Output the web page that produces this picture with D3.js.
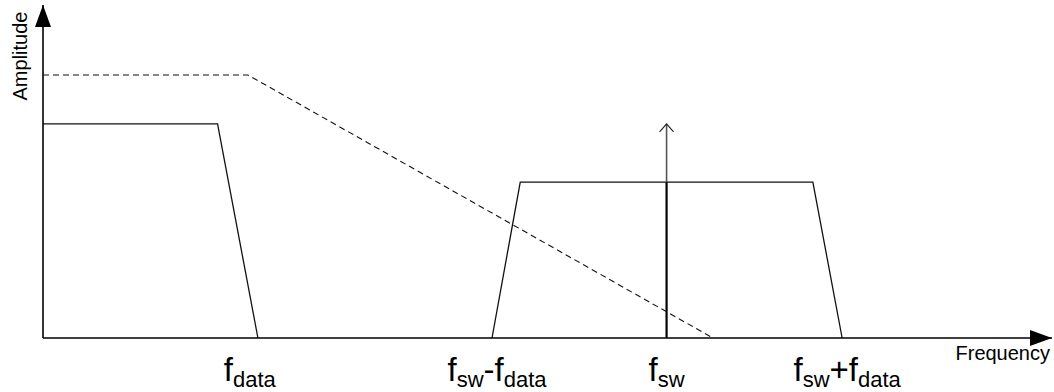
<!DOCTYPE html>
<html>
<head>
<meta charset="utf-8">
<script src="https://cdn.jsdelivr.net/npm/d3@7"></script>
<style>
  html, body { margin: 0; padding: 0; background: #fff; }
  svg { display: block; font-family: "Liberation Sans", Arial, sans-serif; }
</style>
</head>
<body>
<svg id="chart" width="1054" height="392"></svg>
<script>
// Spectrum sketch: baseband data, switching-frequency image band, carrier impulse,
// and a dashed low-pass filter response. Frequencies and amplitudes in arbitrary units.

// Baseband data spectrum (flat top, then roll-off to zero at f_data)
const basebandFreq = [0, 17.3, 21.3];
const basebandAmp  = [64.3, 64.3, 0];

// Modulated band around f_sw (from f_sw - f_data to f_sw + f_data)
const bandFreq = [44.5, 47.3, 76.3, 79.2];
const bandAmp  = [0, 46.8, 46.8, 0];

// Carrier impulse at f_sw
const impulseFreq = 61.8;
const impulseAmp  = 64.3;

// Filter response (dashed)
const filterFreq = [0, 20.3, 66.4];
const filterAmp  = [79.0, 79.0, 0];

// Axis tick labels: symbol/subscript pairs joined by operators
const tickFreq   = [20.5, 45.0, 61.8, 79.7];
const tickLabels = [
  [["f", "data"]],
  [["f", "sw"], "-", ["f", "data"]],
  [["f", "sw"]],
  [["f", "sw"], "+", ["f", "data"]]
];

const axisTitleX = "Frequency";
const axisTitleY = "Amplitude";

const svg = d3.select("#chart");
const x = d3.scaleLinear().domain([0, 100]).range([43, 1052]);
const y = d3.scaleLinear().domain([0, 100]).range([338, 5]);

const line = d3.line().x(d => x(d[0])).y(d => y(d[1]));

// Arrowhead marker for the axes
const defs = svg.append("defs");
defs.append("marker")
  .attr("id", "axisArrow")
  .attr("viewBox", "0 0 22 16")
  .attr("refX", 22).attr("refY", 8)
  .attr("markerWidth", 22).attr("markerHeight", 16)
  .attr("markerUnits", "userSpaceOnUse")
  .attr("orient", "auto")
  .append("path").attr("d", "M0,0 L22,8 L0,16 Z").attr("fill", "#000");

// Filter response
svg.append("path")
  .attr("d", line(d3.zip(filterFreq, filterAmp)))
  .attr("fill", "none").attr("stroke", "#111").attr("stroke-width", 1.1)
  .attr("stroke-dasharray", "6,4");

// Baseband spectrum
svg.append("path")
  .attr("d", line(d3.zip(basebandFreq, basebandAmp)))
  .attr("fill", "none").attr("stroke", "#111").attr("stroke-width", 1.3);

// Modulated band
svg.append("path")
  .attr("d", line(d3.zip(bandFreq, bandAmp)))
  .attr("fill", "none").attr("stroke", "#111").attr("stroke-width", 1.3);

// Carrier impulse with open arrowhead
const ix = x(impulseFreq), itop = y(impulseAmp);
svg.append("line")
  .attr("x1", ix).attr("x2", ix).attr("y1", y(0)).attr("y2", itop)
  .attr("stroke", "#555").attr("stroke-width", 1.6);
svg.append("line")
  .attr("x1", ix).attr("x2", ix).attr("y1", y(0)).attr("y2", y(bandAmp[1]))
  .attr("stroke", "#000").attr("stroke-width", 2);
svg.append("path")
  .attr("d", `M${ix - 7},${itop + 8} L${ix},${itop} L${ix + 7},${itop + 8}`)
  .attr("fill", "none").attr("stroke", "#222").attr("stroke-width", 1.1);

// Axes
svg.append("line")
  .attr("x1", x(0)).attr("x2", x(0)).attr("y1", y(0)).attr("y2", y(100))
  .attr("stroke", "#000").attr("stroke-width", 1.6)
  .attr("marker-end", "url(#axisArrow)");
svg.append("line")
  .attr("x1", x(0)).attr("x2", x(100)).attr("y1", y(0)).attr("y2", y(0))
  .attr("stroke", "#000").attr("stroke-width", 1.6)
  .attr("marker-end", "url(#axisArrow)");

// Tick labels: each piece placed as its own text, laid out left to right
const mainSize = 33, subSize = 22, mainBase = 381, subBase = 387;
tickLabels.forEach((parts, i) => {
  const g = svg.append("g");
  let cx = 0;
  const put = (str, size, base) => {
    const t = g.append("text")
      .attr("x", cx).attr("y", base)
      .attr("font-size", size).attr("fill", "#000").text(str);
    cx += t.node().getComputedTextLength();
  };
  parts.forEach(p => {
    if (Array.isArray(p)) {
      put(p[0], mainSize, mainBase);
      put(p[1], subSize, subBase);
    } else {
      put(p, mainSize, mainBase);
    }
  });
  g.attr("transform", `translate(${x(tickFreq[i]) - cx / 2},0)`);
});

// Axis titles
svg.append("text")
  .attr("x", 1050).attr("y", 360).attr("text-anchor", "end")
  .attr("font-size", 20).attr("fill", "#000").text(axisTitleX);
svg.append("text")
  .attr("transform", "translate(27,56) rotate(-90)")
  .attr("text-anchor", "middle")
  .attr("font-size", 20).attr("fill", "#000").text(axisTitleY);
</script>
</body>
</html>
